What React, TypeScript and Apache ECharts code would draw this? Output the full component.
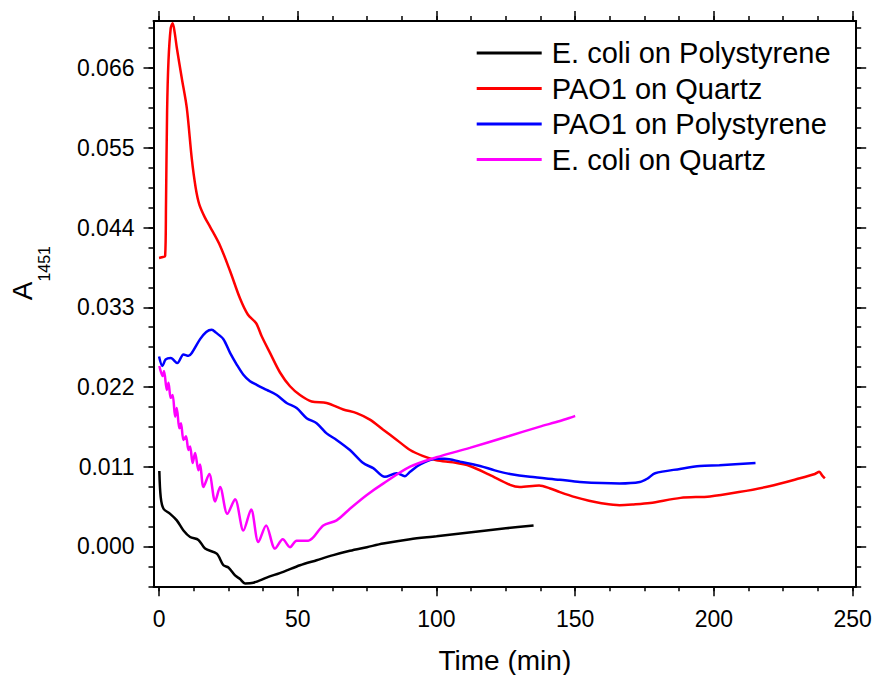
import React, { useEffect, useRef } from "react";
import * as echarts from "echarts";

// ---- Data ----
const seriesNames = [
  "E. coli on Polystyrene",
  "PAO1 on Quartz",
  "PAO1 on Polystyrene",
  "E. coli on Quartz",
];
const seriesColors = ["#000000", "#ff0000", "#0000ff", "#ff00ff"];

const ecoliPsTime = [0.1, 0.6, 1.6, 4.0, 6.4, 8.8, 11.2, 14.2, 16.6, 20.8, 23.2, 25.0, 27.4, 29.2, 31.0, 34.0, 38.8, 44.8, 50.8, 56.8, 62.8, 68.8, 74.9, 80.8, 90.5, 100, 115.7, 125, 135];
const ecoliPsA = [0.0104, 0.0068, 0.0052, 0.0045, 0.0036, 0.0022, 0.0013, 0.0009, -0.0003, -0.001, -0.0026, -0.0029, -0.004, -0.0045, -0.0051, -0.005, -0.0043, -0.0035, -0.0026, -0.0019, -0.0012, -0.0006, -0.0001, 0.0004, 0.001, 0.0014, 0.0021, 0.0025, 0.0029];

const pao1QzTime = [0, 1.0, 2.2, 2.5, 2.9, 3.4, 4.2, 4.9, 5.6, 6.4, 8.2, 10.0, 11.8, 13.2, 14.5, 16.5, 18.4, 22.0, 25.6, 29.2, 32.0, 35.0, 37.0, 40.0, 43.6, 47.2, 50.8, 55.0, 60.4, 66.4, 71.2, 76.0, 80.8, 85.7, 90.5, 95, 100, 106, 112, 119, 126.5, 130, 137, 141, 144.5, 150, 155, 159, 166, 171, 177, 188, 198.6, 209, 220, 231, 236.4, 238, 239, 240];
const pao1QzA = [0.0398, 0.0399, 0.0401, 0.047, 0.06, 0.067, 0.0715, 0.0722, 0.071, 0.0688, 0.0646, 0.0605, 0.0535, 0.0495, 0.0472, 0.0454, 0.0441, 0.0415, 0.038, 0.0342, 0.032, 0.0308, 0.029, 0.0267, 0.024, 0.0221, 0.0209, 0.02, 0.0198, 0.0189, 0.0184, 0.0175, 0.0161, 0.0147, 0.0133, 0.0125, 0.0119, 0.0116, 0.0111, 0.0099, 0.0085, 0.0082, 0.0084, 0.008, 0.0075, 0.0068, 0.0063, 0.006, 0.0057, 0.0058, 0.006, 0.0067, 0.0069, 0.0075, 0.0083, 0.0094, 0.01, 0.0103, 0.0098, 0.0094];

const pao1PsTime = [0, 1.2, 2.4, 4.2, 6.6, 8.8, 10.6, 11.8, 14.8, 17, 19, 20.5, 23.2, 25.6, 28.0, 30.4, 32.8, 35.2, 38.8, 42.4, 46.0, 49.6, 53.2, 56.8, 60.4, 64.0, 68.8, 73.6, 77.2, 81.4, 85.6, 88.6, 90.5, 94, 100, 103, 108.5, 115.7, 121, 126.5, 133.7, 144.5, 151.7, 166, 173.3, 176.2, 178.8, 187.8, 195, 202, 215];
const pao1PsA = [0.0262, 0.0249, 0.0258, 0.026, 0.0253, 0.0265, 0.0263, 0.0267, 0.0286, 0.0296, 0.0299, 0.0295, 0.0286, 0.0267, 0.0251, 0.0237, 0.0228, 0.0223, 0.0216, 0.0209, 0.0198, 0.0191, 0.0177, 0.017, 0.0156, 0.0147, 0.0133, 0.0115, 0.0108, 0.0096, 0.0101, 0.0097, 0.0103, 0.0113, 0.0121, 0.0121, 0.0117, 0.0111, 0.0105, 0.01, 0.0096, 0.0092, 0.0089, 0.0087, 0.0089, 0.0094, 0.0101, 0.0107, 0.0111, 0.0112, 0.0115];

const ecoliQzTime = [0.1, 1.3, 1.8, 2.8, 3.4, 4.2, 4.9, 5.8, 6.4, 7.3, 7.9, 8.8, 9.7, 10.6, 11.2, 12.1, 13.0, 14.2, 14.8, 16.0, 18.1, 20.2, 22.0, 24.6, 27.4, 30.4, 33.2, 35.8, 38.6, 41.8, 44.6, 47.2, 49.6, 53.8, 59.2, 64.0, 68.8, 74.9, 80.9, 90.5, 100, 112, 125, 137, 144.5, 150];
const ecoliQzA = [0.0249, 0.0235, 0.0242, 0.0216, 0.0226, 0.0205, 0.0209, 0.0179, 0.0191, 0.0163, 0.017, 0.0147, 0.0152, 0.0133, 0.0138, 0.0115, 0.0129, 0.0105, 0.0113, 0.0082, 0.01, 0.0062, 0.0082, 0.0045, 0.0065, 0.0022, 0.0051, 0.0006, 0.0029, -0.0003, 0.001, -0.0001, 0.0008, 0.0008, 0.0029, 0.0036, 0.0052, 0.0071, 0.0087, 0.011, 0.0123, 0.0136, 0.0151, 0.0165, 0.0173, 0.018];

const xMajorTicks = [0, 50, 100, 150, 200, 250];
const xMinorTicks = [0, 12.5, 25, 37.5, 50, 62.5, 75, 87.5, 100, 112.5, 125, 137.5, 150, 162.5, 175, 187.5, 200, 212.5, 225, 237.5, 250];
const yMajorTicks = [0, 0.011, 0.022, 0.033, 0.044, 0.055, 0.066];
const yMinorTicks = [-0.0055, -0.00275, 0, 0.00275, 0.0055, 0.00825, 0.011, 0.01375, 0.0165, 0.01925, 0.022, 0.02475, 0.0275, 0.03025, 0.033, 0.03575, 0.0385, 0.04125, 0.044, 0.04675, 0.0495, 0.05225, 0.055, 0.05775, 0.0605, 0.06325, 0.066, 0.06875, 0.0715];

const X_MIN = -2;
const X_MAX = 251.3;
const Y_MIN = -0.0055;
const Y_MAX = 0.0725;

const FONT = '"Liberation Sans", Arial, Helvetica, sans-serif';

const zip = (xs: number[], ys: number[]) => xs.map((x, i) => [x, ys[i]]);

export default function App() {
  const ref = useRef<HTMLDivElement>(null);

  useEffect(() => {
    if (!ref.current) return;
    const chart = echarts.init(ref.current, null, { renderer: "svg" });

    const mkX = (pos: string, major: boolean, withLabels: boolean, extra: any = {}) => ({
      type: "value",
      position: pos,
      min: X_MIN,
      max: X_MAX,
      axisLine: { show: major, onZero: false, lineStyle: { color: "#000", width: 2 } },
      axisTick: {
        show: true,
        inside: false,
        customValues: major ? xMajorTicks : xMinorTicks,
        length: major ? 10 : 5,
        lineStyle: { color: "#000", width: 1.5 },
      },
      axisLabel: withLabels
        ? { show: true, customValues: xMajorTicks, margin: 21, fontSize: 23, fontFamily: FONT, color: "#000" }
        : { show: false },
      splitLine: { show: false },
      ...extra,
    });
    const mkY = (pos: string, major: boolean, withLabels: boolean, extra: any = {}) => ({
      type: "value",
      position: pos,
      min: Y_MIN,
      max: Y_MAX,
      axisLine: { show: major, onZero: false, lineStyle: { color: "#000", width: 2 } },
      axisTick: {
        show: true,
        inside: false,
        customValues: major ? yMajorTicks : yMinorTicks,
        length: major ? 10 : 5,
        lineStyle: { color: "#000", width: 1.5 },
      },
      axisLabel: withLabels
        ? {
            show: true,
            customValues: yMajorTicks,
            margin: 19,
            fontSize: 23,
            fontFamily: FONT,
            color: "#000",
            formatter: (v: number) => v.toFixed(3),
          }
        : { show: false },
      splitLine: { show: false },
      ...extra,
    });

    const option: any = {
      animation: false,
      backgroundColor: "#ffffff",
      grid: {
        left: 153.5,
        top: 21,
        width: 702.7,
        height: 565.3,
        containLabel: false,
        outerBoundsMode: "none",
      },
      legend: {
        orient: "vertical",
        left: 476.7,
        top: 37,
        padding: 0,
        itemWidth: 65,
        itemHeight: 3,
        itemGap: 3.5,
        icon: "rect",
        data: seriesNames,
        textStyle: { fontSize: 29, fontFamily: FONT, color: "#000", lineHeight: 32, padding: [0, 0, 0, 5] },
      },
      xAxis: [
        mkX("bottom", true, true, {
          name: "Time (min)",
          nameLocation: "middle",
          nameGap: 60,
          nameTextStyle: { fontSize: 28, fontFamily: FONT, color: "#000" },
        }),
        mkX("bottom", false, false),
        mkX("top", true, false),
        mkX("top", false, false),
      ],
      yAxis: [
        mkY("left", true, true, {
          name: "{a|A}{s|1451}",
          nameLocation: "middle",
          nameRotate: 90,
          nameGap: 101,
          nameTextStyle: {
            fontFamily: FONT,
            color: "#000",
            padding: [0, 0, 0, 61],
            rich: {
              a: { fontSize: 28, fontFamily: FONT, color: "#000", lineHeight: 28, verticalAlign: "top" },
              s: { fontSize: 16, fontFamily: FONT, color: "#000", lineHeight: 44, verticalAlign: "bottom" },
            },
          },
        }),
        mkY("left", false, false),
        mkY("right", true, false),
        mkY("right", false, false),
      ],
      series: [
        [ecoliPsTime, ecoliPsA],
        [pao1QzTime, pao1QzA],
        [pao1PsTime, pao1PsA],
        [ecoliQzTime, ecoliQzA],
      ].map(([t, a], i) => ({
        type: "line",
        name: seriesNames[i],
        xAxisIndex: 0,
        yAxisIndex: 0,
        data: zip(t, a),
        symbol: "none",
        showSymbol: false,
        smooth: 0.3,
        lineStyle: { color: seriesColors[i], width: 2.5 },
        itemStyle: { color: seriesColors[i] },
      })),
    };

    chart.setOption(option);
    return () => chart.dispose();
  }, []);

  return (
    <div
      ref={ref}
      style={{ position: "fixed", left: 0, top: 0, width: 873, height: 675, background: "#fff" }}
    />
  );
}
